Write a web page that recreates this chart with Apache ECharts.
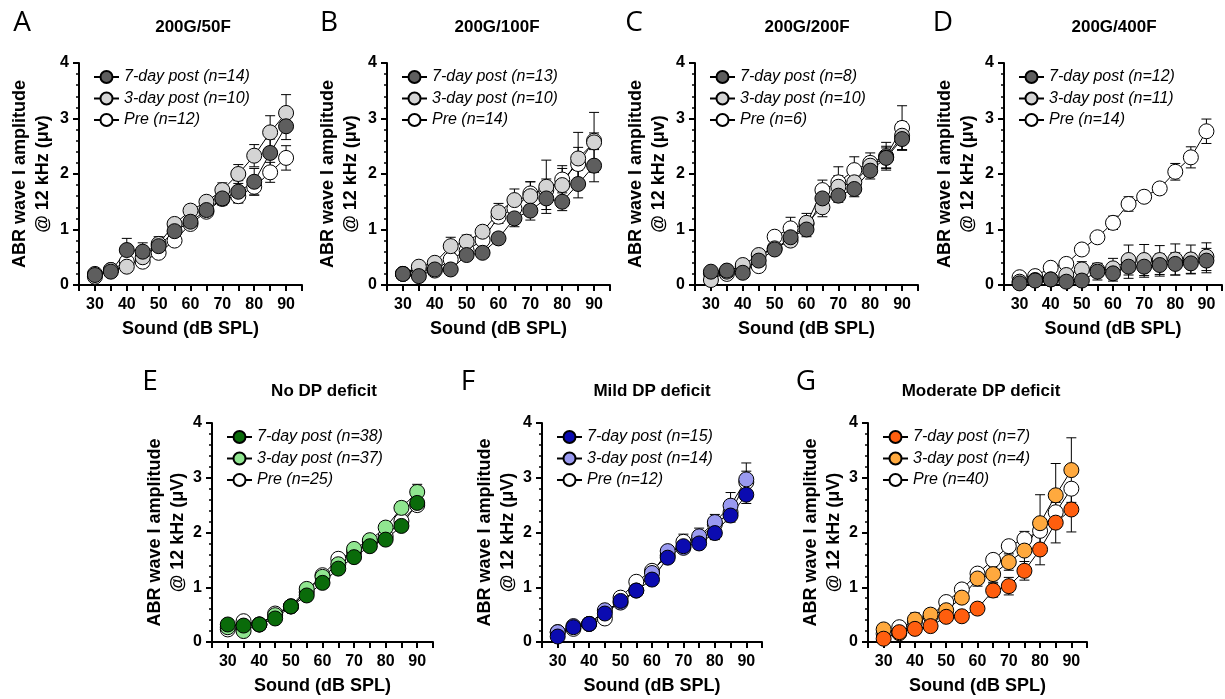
<!DOCTYPE html>
<html>
<head>
<meta charset="utf-8">
<script src="https://cdn.jsdelivr.net/npm/echarts@6/dist/echarts.min.js"></script>
<style>
  html, body { margin: 0; padding: 0; background: #fff; }
  #chart { width: 1225px; height: 699px; }
</style>
</head>
<body>
<div id="chart"></div>
<script>
// sound levels (dB SPL)
const sound = [30, 35, 40, 45, 50, 55, 60, 65, 70, 75, 80, 85, 90]

const panelLetters = ['A', 'B', 'C', 'D', 'E', 'F', 'G']
const panelTitles = ['200G/50F', '200G/100F', '200G/200F', '200G/400F', 'No DP deficit', 'Mild DP deficit', 'Moderate DP deficit']
const nPost7 = [14, 13, 8, 12, 38, 15, 7]
const nPost3 = [10, 10, 10, 11, 37, 14, 4]
const nPre = [12, 14, 6, 14, 25, 12, 40]

// A: 200G/50F
const a7 = [0.18, 0.24, 0.63, 0.60, 0.70, 0.97, 1.14, 1.35, 1.56, 1.68, 1.86, 2.38, 2.86]
const a7Err = [0.05, 0.05, 0.21, 0.16, 0.17, 0.10, 0.10, 0.10, 0.12, 0.20, 0.24, 0.25, 0.24]
const a3 = [0.20, 0.27, 0.33, 0.50, 0.74, 1.10, 1.34, 1.50, 1.71, 2.00, 2.33, 2.75, 3.10]
const a3Err = [0.05, 0.05, 0.08, 0.08, 0.10, 0.10, 0.10, 0.08, 0.13, 0.17, 0.20, 0.30, 0.33]
const aPre = [0.15, 0.27, 0.42, 0.42, 0.58, 0.80, 1.10, 1.32, 1.55, 1.60, 1.77, 2.03, 2.29]
const aPreErr = [0.05, 0.05, 0.08, 0.08, 0.08, 0.08, 0.10, 0.08, 0.10, 0.12, 0.15, 0.18, 0.22]

// B: 200G/100F
const b7 = [0.20, 0.16, 0.28, 0.28, 0.54, 0.58, 0.84, 1.20, 1.34, 1.56, 1.50, 1.82, 2.15]
const b7Err = [0.04, 0.05, 0.06, 0.06, 0.08, 0.08, 0.10, 0.15, 0.17, 0.20, 0.16, 0.25, 0.29]
const b3 = [0.20, 0.33, 0.40, 0.70, 0.78, 0.96, 1.31, 1.53, 1.60, 1.77, 1.80, 2.28, 2.57]
const b3Err = [0.04, 0.06, 0.06, 0.16, 0.12, 0.10, 0.16, 0.20, 0.26, 0.48, 0.35, 0.47, 0.54]
const bPre = [0.20, 0.28, 0.26, 0.46, 0.62, 0.81, 1.23, 1.38, 1.65, 1.71, 1.90, 2.18, 2.60]
const bPreErr = [0.04, 0.05, 0.06, 0.10, 0.10, 0.10, 0.12, 0.15, 0.21, 0.20, 0.20, 0.30, 0.14]

// C: 200G/200F
const c7 = [0.24, 0.26, 0.22, 0.44, 0.64, 0.86, 1.00, 1.56, 1.61, 1.73, 2.06, 2.29, 2.63]
const c7Err = [0.05, 0.05, 0.06, 0.08, 0.08, 0.10, 0.13, 0.15, 0.12, 0.14, 0.15, 0.18, 0.20]
const c3 = [0.09, 0.24, 0.36, 0.54, 0.66, 0.80, 1.12, 1.40, 1.77, 1.85, 2.15, 2.30, 2.69]
const c3Err = [0.05, 0.05, 0.06, 0.08, 0.08, 0.10, 0.17, 0.17, 0.20, 0.15, 0.15, 0.20, 0.25]
const cPre = [0.21, 0.20, 0.33, 0.34, 0.87, 1.02, 1.10, 1.71, 1.85, 2.07, 2.20, 2.32, 2.83]
const cPreErr = [0.05, 0.05, 0.06, 0.08, 0.08, 0.20, 0.12, 0.18, 0.28, 0.24, 0.18, 0.25, 0.40]

// D: 200G/400F
const d7 = [0.03, 0.08, 0.10, 0.06, 0.08, 0.24, 0.21, 0.33, 0.33, 0.36, 0.38, 0.39, 0.44]
const d7Err = [0.03, 0.04, 0.05, 0.05, 0.06, 0.15, 0.14, 0.21, 0.19, 0.20, 0.20, 0.18, 0.22]
const d3 = [0.06, 0.09, 0.10, 0.18, 0.28, 0.27, 0.30, 0.45, 0.45, 0.45, 0.46, 0.46, 0.51]
const d3Err = [0.03, 0.04, 0.05, 0.08, 0.14, 0.12, 0.18, 0.27, 0.28, 0.26, 0.28, 0.26, 0.25]
const dPre = [0.14, 0.16, 0.31, 0.38, 0.64, 0.86, 1.12, 1.46, 1.59, 1.74, 2.04, 2.30, 2.77]
const dPreErr = [0.04, 0.05, 0.06, 0.06, 0.07, 0.08, 0.12, 0.13, 0.10, 0.10, 0.15, 0.19, 0.22]

// E: No DP deficit
const e7 = [0.32, 0.30, 0.32, 0.43, 0.65, 0.85, 1.08, 1.34, 1.55, 1.75, 1.87, 2.12, 2.54]
const e7Err = [0.04, 0.04, 0.04, 0.05, 0.05, 0.06, 0.06, 0.07, 0.07, 0.08, 0.08, 0.09, 0.10]
const e3 = [0.27, 0.20, 0.32, 0.49, 0.65, 0.97, 1.19, 1.42, 1.70, 1.86, 2.09, 2.45, 2.74]
const e3Err = [0.04, 0.04, 0.04, 0.05, 0.05, 0.06, 0.07, 0.07, 0.08, 0.08, 0.09, 0.11, 0.14]
const ePre = [0.23, 0.38, 0.32, 0.52, 0.65, 0.91, 1.22, 1.52, 1.64, 1.83, 1.93, 2.21, 2.50]
const ePreErr = [0.03, 0.04, 0.04, 0.05, 0.05, 0.06, 0.06, 0.07, 0.07, 0.08, 0.08, 0.09, 0.10]

// F: Mild DP deficit
const f7 = [0.10, 0.27, 0.33, 0.52, 0.75, 0.94, 1.14, 1.54, 1.75, 1.80, 1.99, 2.31, 2.69]
const f7Err = [0.04, 0.05, 0.05, 0.06, 0.06, 0.07, 0.08, 0.09, 0.10, 0.10, 0.12, 0.12, 0.16]
const f3 = [0.18, 0.29, 0.33, 0.58, 0.72, 0.94, 1.26, 1.66, 1.72, 1.93, 2.19, 2.49, 2.97]
const f3Err = [0.04, 0.05, 0.05, 0.06, 0.06, 0.07, 0.08, 0.09, 0.10, 0.15, 0.14, 0.24, 0.30]
const fPre = [0.18, 0.24, 0.33, 0.43, 0.81, 1.10, 1.30, 1.58, 1.83, 1.89, 2.15, 2.37, 2.92]
const fPreErr = [0.04, 0.05, 0.05, 0.06, 0.06, 0.07, 0.08, 0.09, 0.14, 0.12, 0.12, 0.14, 0.20]

// G: Moderate DP deficit
const g7 = [0.06, 0.18, 0.24, 0.29, 0.46, 0.47, 0.61, 0.94, 1.02, 1.30, 1.69, 2.18, 2.42]
const g7Err = [0.05, 0.06, 0.06, 0.07, 0.08, 0.08, 0.10, 0.12, 0.16, 0.17, 0.28, 0.37, 0.41]
const g3 = [0.23, 0.16, 0.41, 0.50, 0.58, 0.81, 1.16, 1.24, 1.46, 1.67, 2.17, 2.68, 3.14]
const g3Err = [0.05, 0.06, 0.12, 0.10, 0.10, 0.10, 0.14, 0.15, 0.15, 0.35, 0.52, 0.58, 0.59]
const gPre = [0.15, 0.27, 0.37, 0.47, 0.73, 0.96, 1.25, 1.50, 1.75, 1.88, 2.03, 2.37, 2.80]
const gPreErr = [0.03, 0.03, 0.04, 0.04, 0.05, 0.05, 0.06, 0.06, 0.07, 0.07, 0.08, 0.08, 0.10]

const means = [[a7, a3, aPre], [b7, b3, bPre], [c7, c3, cPre], [d7, d3, dPre], [e7, e3, ePre], [f7, f3, fPre], [g7, g3, gPre]]
const errs = [[a7Err, a3Err, aPreErr], [b7Err, b3Err, bPreErr], [c7Err, c3Err, cPreErr], [d7Err, d3Err, dPreErr], [e7Err, e3Err, ePreErr], [f7Err, f3Err, fPreErr], [g7Err, g3Err, gPreErr]]

// marker fills: [7-day, 3-day, pre]
const grayFill = ['#5e5e5e', '#d4d4d4', '#ffffff']
const greenFill = ['#0a6b0a', '#90e690', '#ffffff']
const blueFill = ['#0b0bb0', '#9a9af0', '#ffffff']
const orangeFill = ['#ff5e0e', '#ffa93e', '#ffffff']
const fills = [grayFill, grayFill, grayFill, grayFill, greenFill, blueFill, orangeFill]

// layout
const grids = [
  { left: 79, top: 63, width: 223, height: 222 },
  { left: 387, top: 63, width: 223, height: 222 },
  { left: 695, top: 63, width: 223, height: 222 },
  { left: 1004, top: 63, width: 220, height: 222 },
  { left: 212, top: 423, width: 221, height: 219 },
  { left: 542, top: 423, width: 220, height: 219 },
  { left: 868, top: 423, width: 219, height: 219 },
]
const letterPos = [[22, 23], [329, 23], [634, 23], [943, 23], [150, 382], [468, 382], [806, 382]]
const titlePos = [[193, 27], [497, 27], [807, 27], [1114, 27], [324, 391], [652, 391], [981, 391]]

const font = '"Liberation Sans", Arial, sans-serif'

function errRender(params, api) {
  const x = api.value(0)
  const m = api.value(1)
  const e = api.value(2)
  const top = api.coord([x, m + e])
  const bot = api.coord([x, Math.max(0, m - e)])
  const hw = 5
  const st = { stroke: '#000', lineWidth: 1 }
  return {
    type: 'group',
    children: [
      { type: 'line', shape: { x1: top[0], y1: top[1], x2: bot[0], y2: bot[1] }, style: st },
      { type: 'line', shape: { x1: top[0] - hw, y1: top[1], x2: top[0] + hw, y2: top[1] }, style: st },
      { type: 'line', shape: { x1: bot[0] - hw, y1: bot[1], x2: bot[0] + hw, y2: bot[1] }, style: st },
    ],
  }
}

const grid = []
const xAxis = []
const yAxis = []
const legend = []
const series = []
const graphic = []

grids.forEach((g, i) => {
  grid.push(g)
  xAxis.push({
    type: 'value', gridIndex: i, min: 25, max: 95, interval: 5,
    name: 'Sound (dB SPL)', nameLocation: 'middle', nameGap: 35,
    nameTextStyle: { fontFamily: font, fontWeight: 'bold', fontSize: 18, color: '#000' },
    axisLine: { lineStyle: { color: '#000', width: 2 } },
    axisTick: { length: 6, lineStyle: { color: '#000', width: 2 } },
    axisLabel: {
      margin: 12, fontFamily: font, fontWeight: 'bold', fontSize: 16, color: '#000',
      formatter: (v) => (v % 10 === 0 ? String(v) : ''),
    },
    splitLine: { show: false },
  })
  yAxis.push({
    type: 'value', gridIndex: i, min: 0, max: 4, interval: 1,
    name: i < 4 ? 'ABR wave I amplitude\n@ 12 kHz (\u03bcv)' : 'ABR wave I amplitude\n@ 12 kHz (\u03bcV)',
    nameLocation: 'middle', nameRotate: 90, nameGap: i < 4 ? 24 : 18,
    nameTextStyle: { fontFamily: font, fontWeight: 'bold', fontSize: 18, color: '#000', lineHeight: 23 },
    axisLine: { lineStyle: { color: '#000', width: 2 } },
    axisTick: { length: 6, lineStyle: { color: '#000', width: 2 } },
    minorTick: { show: true, splitNumber: 5, length: 3, lineStyle: { color: '#000', width: 1.5 } },
    axisLabel: { margin: 10, fontFamily: font, fontWeight: 'bold', fontSize: 16, color: '#000' },
    splitLine: { show: false },
  })

  const names = [
    `7-day post (n=${nPost7[i]})`,
    `3-day post (n=${nPost3[i]})`,
    `Pre (n=${nPre[i]})`,
  ]
  legend.push({
    data: names, orient: 'vertical', left: g.left + 9, top: g.top + 1,
    itemWidth: 25, itemHeight: 15, itemGap: 5.5,
    textStyle: { fontFamily: font, fontStyle: 'italic', fontSize: 16, color: '#000' },
  })

  // draw order: Pre, 3-day, 7-day (7-day on top)
  for (let k = 2; k >= 0; k--) {
    series.push({
      type: 'custom', name: `err-${i}-${k}`, xAxisIndex: i, yAxisIndex: i,
      renderItem: errRender, encode: { x: 0, y: 1 },
      data: sound.map((s, j) => [s, means[i][k][j], errs[i][k][j]]),
      silent: true, legendHoverLink: false,
    })
    series.push({
      type: 'line', name: names[k], xAxisIndex: i, yAxisIndex: i,
      data: sound.map((s, j) => [s, means[i][k][j]]),
      symbol: 'circle', symbolSize: 15, showSymbol: true,
      lineStyle: { color: '#000', width: 1 },
      itemStyle: { color: fills[i][k], borderColor: '#000', borderWidth: 1 },
      emphasis: { disabled: true },
      animation: false,
    })
  }

  graphic.push({
    type: 'text', x: letterPos[i][0], y: letterPos[i][1],
    style: { text: panelLetters[i], font: '28px "Open Sans", sans-serif', fill: '#000', textAlign: 'center', textVerticalAlign: 'middle' },
  })
  graphic.push({
    type: 'text', x: titlePos[i][0], y: titlePos[i][1],
    style: { text: panelTitles[i], font: 'bold 17px "Liberation Sans", Arial, sans-serif', fill: '#000', textAlign: 'center', textVerticalAlign: 'middle' },
  })
})

const chart = echarts.init(document.getElementById('chart'))
chart.setOption({
  animation: false,
  backgroundColor: '#fff',
  grid, xAxis, yAxis, legend, series, graphic,
})
</script>
</body>
</html>
